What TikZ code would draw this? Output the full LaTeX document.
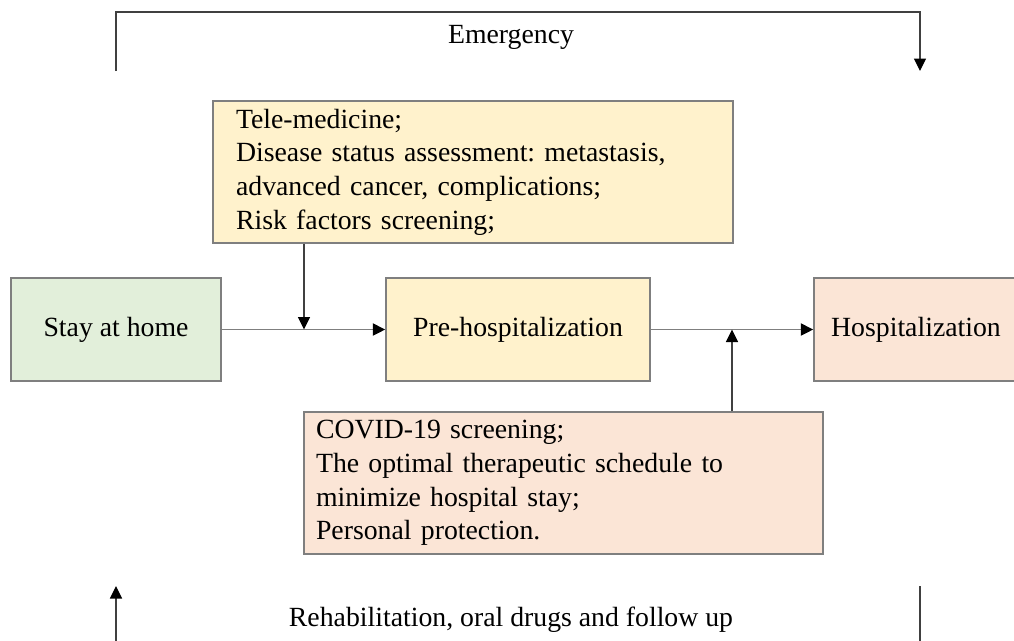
\documentclass[tikz,border=0pt]{standalone}
\usepackage{fontspec}
\setmainfont{Liberation Serif}
\usetikzlibrary{arrows.meta,positioning}

\definecolor{homegreen}{HTML}{E2EFDA}
\definecolor{preyellow}{HTML}{FFF2CC}
\definecolor{hosppeach}{HTML}{FBE5D6}
\definecolor{edgegray}{HTML}{7F7F7F}

\tikzset{
  stage/.style={draw=edgegray, line width=0.85pt, minimum height=2.06cm, inner sep=0pt},
  note/.style={draw=edgegray, line width=0.85pt, minimum height=2.84cm, align=left},
  tip/.style={-{Triangle[length=2.5mm,width=2.4mm,color=black]}},
  flow/.style={draw=edgegray, line width=1.1pt, tip},
  feed/.style={draw=black!75, line width=0.7pt, tip}
}

\begin{document}
\begin{tikzpicture}[x=0.02cm, y=-0.02cm, font=\fontsize{15.8}{19.2}\selectfont]
    \frenchspacing
    \useasboundingbox (0,0) rectangle (1014,640);
    % the three stages
    \node[stage, fill=homegreen, minimum width=4.2cm] (home) at (116,329.5) {Stay at home};
    \node[stage, fill=preyellow, minimum width=5.28cm] (pre) at (518,329.5) {Pre-hospitalization};
    \node[stage, fill=hosppeach, minimum width=4.08cm] (hosp) at (916,329.5) {Hospitalization};
    % the two notes
    \node[note, fill=preyellow, text width=9.48cm, inner xsep=0.46cm] (tele) at (473,172)
      {Tele-medicine;\\Disease status assessment: metastasis,\\advanced cancer, complications;\\Risk factors screening;};
    \node[note, fill=hosppeach, text width=9.9cm, inner xsep=0.24cm] (covid) at (563.5,483)
      {COVID-19 screening;\\The optimal therapeutic schedule to\\minimize hospital stay;\\Personal protection.};
    \coordinate (j1) at (304,329.5);
    \coordinate (j2) at (732,329.5);
    \draw[flow] (home) -- (pre);
    \draw[flow] (pre) -- (hosp);
    \draw[feed] (tele.south -| j1) -- (j1);
    \draw[feed] (covid.north -| j2) -- (j2);
    % emergency and return loops
    \coordinate (eL) at (116,71);
    \coordinate (eR) at (920,71);
    \draw[feed] (eL) -- ++(0,-59) -| (eR);
    \node (emerg) at (511,37) {Emergency};
    \coordinate (rL) at (116,586);
    \coordinate (rR) at (920,586);
    \draw[feed] (rR) -- ++(0,80) -| (rL);
    \node (rehab) at (511,620) {Rehabilitation, oral drugs and follow up};
\end{tikzpicture}
\end{document}
